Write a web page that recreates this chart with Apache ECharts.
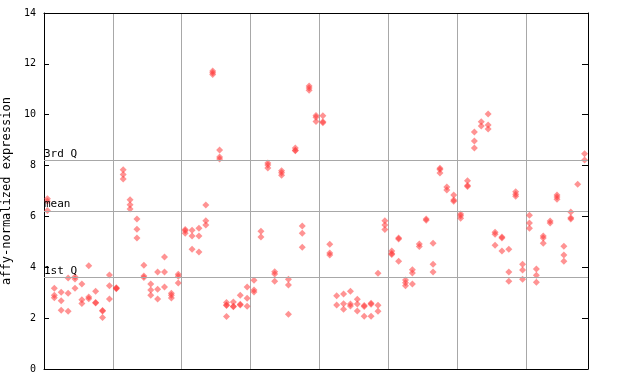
<!DOCTYPE html>
<html><head><meta charset="utf-8">
<script src="https://cdn.jsdelivr.net/npm/echarts@6/dist/echarts.min.js"></script>
<style>html,body{margin:0;padding:0;background:#fff}#c{width:640px;height:384px}</style>
</head><body><div id="c"></div>
<script>
// y-axis ticks
const yMin = 0, yMax = 14, yStep = 2;
// sample layout: 79 samples, group boundaries every 10 samples
const sampleCount = 79;
const groupSize = 10;
// values per sample (each inner array = points drawn in that sample column)
const group1 = [[6.7,6.6,6.23],[3.18,2.9,2.8],[3.02,2.68,2.31],[3.58,2.98,2.27],[3.63,3.54,3.18],[3.34,2.72,2.58],[4.06,2.83,2.76],[3.06,2.62,2.6],[2.3,2.28,2.03],[3.7,3.27,2.75]];
const group2 = [[3.2,3.16,3.18],[7.84,7.65,7.47],[6.66,6.46,6.29],[5.9,5.5,5.15],[4.08,3.66,3.6],[3.34,3.11,2.9],[3.81,3.14,2.75],[4.4,3.81,3.22],[2.98,2.9,2.79],[3.73,3.65,3.38]];
const group3 = [[5.49,5.44,5.34],[5.46,5.23,4.71],[5.54,5.23,4.6],[6.45,5.83,5.66],[11.72,11.65,11.58],[8.61,8.34,8.26],[2.62,2.52,2.5,2.06],[2.63,2.47,2.45],[2.9,2.55,2.52],[3.22,2.78,2.47]];
const group4 = [[3.49,3.11,3.03],[5.42,5.19],[8.1,8.02,7.9],[3.82,3.74,3.45],[7.8,7.72,7.62],[3.53,3.3,2.15],[8.69,8.6,8.58],[5.62,5.34,4.79],[11.13,11.05,10.96],[9.97,9.9,9.73]];
const group5 = [[9.96,9.72,9.68],[4.91,4.56,4.48],[2.88,2.52],[2.95,2.57,2.35],[3.06,2.56,2.48],[2.74,2.56,2.28],[2.5,2.46,2.07],[2.59,2.55,2.07],[3.77,2.51,2.27],[5.83,5.66,5.49]];
const group6 = [[4.64,4.54,4.5],[5.15,5.11,4.24],[3.5,3.39,3.27],[3.9,3.78,3.34],[4.92,4.82],[5.9,5.85],[4.95,4.12,3.81],[7.89,7.85,7.71],[7.16,7.04],[6.84,6.65,6.6]];
const group7 = [[6.1,6.03,5.93],[7.4,7.22,7.18],[9.32,8.97,8.69],[9.72,9.56],[10.03,9.6,9.44],[5.38,5.3,4.87],[5.19,5.15,4.64],[4.71,3.81,3.45],[6.97,6.87,6.79],[4.12,3.89,3.53]];
const group8 = [[6.05,5.74,5.54],[3.93,3.69,3.41],[5.23,5.15,4.95],[5.82,5.74],[6.84,6.76,6.68],[4.83,4.48,4.24],[6.17,5.95,5.9],[7.27],[8.46,8.22]];
// reference lines
const refNames = ['3rd Q', 'mean', '1st Q'];
const refValues = [8.2, 6.21, 3.61];
const yName = 'affy-normalized expression';

const samples = [].concat(group1, group2, group3, group4, group5, group6, group7, group8);
const points = [];
samples.forEach((vals, i) => vals.forEach(v => points.push([i + 0.5, v])));

const mono = 'DejaVu Sans Mono';
const chart = echarts.init(document.getElementById('c'), null, {renderer: 'canvas'});
chart.setOption({
  animation: false,
  backgroundColor: '#fff',
  grid: {left: 44, right: 52, top: 13, bottom: 15, containLabel: false, outerBoundsMode: 'none'},
  xAxis: [{
    type: 'value', min: 0, max: sampleCount, interval: groupSize,
    axisLine: {show: true, lineStyle: {color: '#000', width: 1}},
    axisTick: {show: false}, axisLabel: {show: false},
    splitLine: {show: true, lineStyle: {color: '#a8a8a8', width: 1}}
  }, {
    type: 'value', position: 'top', min: 0, max: sampleCount,
    axisLine: {show: true, onZero: false, lineStyle: {color: '#000', width: 1}},
    axisTick: {show: false}, axisLabel: {show: false}, splitLine: {show: false}
  }],
  yAxis: [{
    type: 'value', min: yMin, max: yMax, interval: yStep,
    name: yName, nameLocation: 'middle', nameGap: 24, nameRotate: 90,
    nameTextStyle: {fontFamily: mono, fontSize: 12, color: '#000'},
    axisLine: {show: true, lineStyle: {color: '#000', width: 1}},
    axisTick: {show: true, inside: true, length: 5, lineStyle: {color: '#000'}},
    axisLabel: {fontFamily: mono, fontSize: 10, color: '#000', margin: 8},
    splitLine: {show: false}
  }, {
    type: 'value', position: 'right', min: yMin, max: yMax, interval: yStep,
    axisLine: {show: true, onZero: false, lineStyle: {color: '#000', width: 1}},
    axisTick: {show: true, inside: true, length: 6, lineStyle: {color: '#000'}},
    axisLabel: {show: false}, splitLine: {show: false}
  }],
  series: [{
    type: 'scatter',
    symbol: 'diamond',
    symbolSize: 7,
    itemStyle: {color: '#ff3a3a', opacity: 0.55},
    data: points,
    z: 3,
    markLine: {
      silent: true, symbol: 'none', animation: false,
      lineStyle: {color: '#a8a8a8', width: 1, type: 'solid'},
      label: {show: true, position: 'insideStartTop', formatter: p => p.name,
              fontFamily: mono, fontSize: 11, color: '#000', distance: [0, 1], padding: 0},
      data: refValues.map((v, k) => ({yAxis: v, name: refNames[k]}))
    }
  }]
});
</script></body></html>
